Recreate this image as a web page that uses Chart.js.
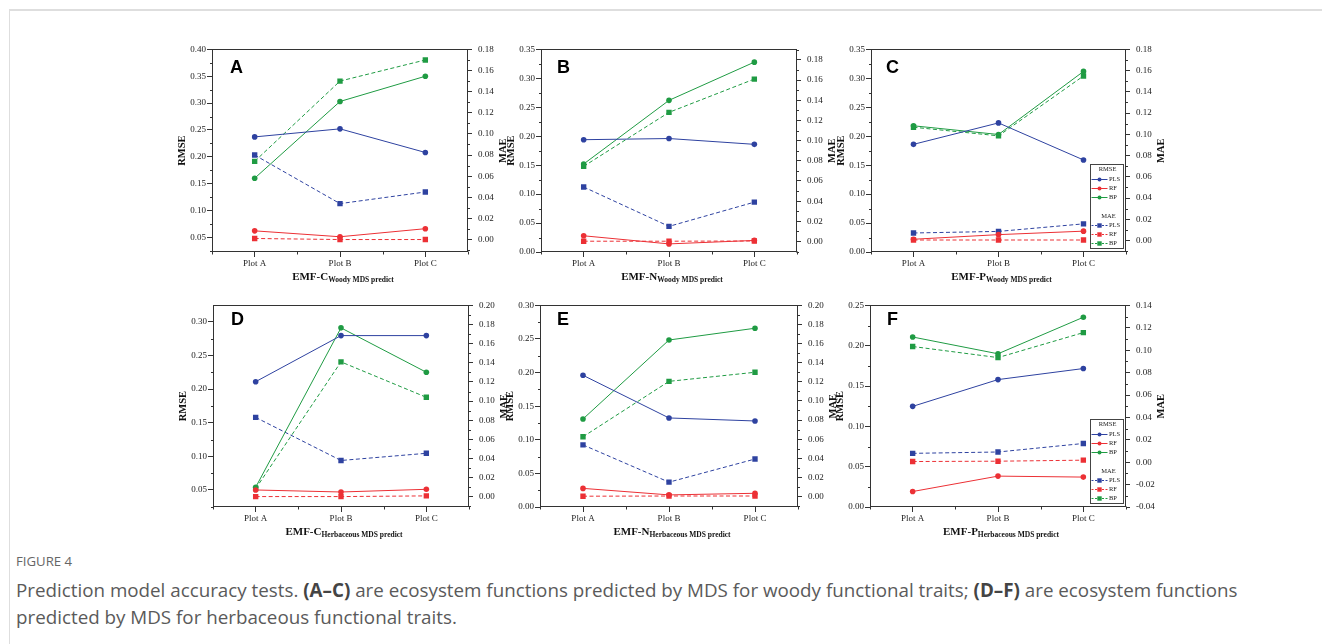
<!DOCTYPE html>
<html>
<head>
<meta charset="utf-8">
<script src="https://cdn.jsdelivr.net/npm/chart.js@4"></script>
<style>
  html, body { margin: 0; padding: 0; background: #fff; }
  #page { position: relative; width: 1322px; height: 644px; overflow: hidden; background: #fff; }
  #card { position: absolute; left: 9px; top: 9px; width: 1340px; height: 680px;
          border-top: 2px solid #dedede; border-left: 1px solid #dedede; }
  .panel { position: absolute; }
  .xtitle { position: absolute; font-family: "Liberation Serif", serif; font-weight: bold;
            font-size: 11px; color: #111; white-space: nowrap; transform: translate(-50%, -50%); }
  .xtitle sub { font-size: 7.5px; vertical-align: -2px; }
  #fig { position: absolute; left: 16px; top: 552px; font-family: "Open Sans", sans-serif;
         font-size: 13.2px; color: #666; }
  #cap { position: absolute; left: 16px; top: 577px; font-family: "Open Sans", sans-serif;
         font-size: 18.8px; line-height: 27px; color: #5a5a5a; white-space: nowrap; }
  #cap b { color: #444; }
</style>
</head>
<body>
<div id="page">
  <div id="card"></div>
  <div id="fig">FIGURE 4</div>
  <div id="cap">Prediction model accuracy tests. <b>(A–C)</b> are ecosystem functions predicted by MDS for woody functional traits; <b>(D–F)</b> are ecosystem functions<br>predicted by MDS for herbaceous functional traits.</div>
</div>
<script>
const plots = ['Plot A', 'Plot B', 'Plot C'];
const models = ['PLS', 'RF', 'BP'];
const modelColors = ['#2e42a0', '#ec3035', '#1f9b43'];

// panel A  (EMF-C, woody)
const rmseA_PLS = [0.237, 0.252, 0.208];
const rmseA_RF  = [0.062, 0.051, 0.066];
const rmseA_BP  = [0.160, 0.303, 0.350];
const maeA_PLS  = [0.080, 0.034, 0.045];
const maeA_RF   = [0.001, 0.000, 0.000];
const maeA_BP   = [0.074, 0.150, 0.170];
const leftTicksA  = [0.05, 0.10, 0.15, 0.20, 0.25, 0.30, 0.35, 0.40];
const rightTicksA = [0.00, 0.02, 0.04, 0.06, 0.08, 0.10, 0.12, 0.14, 0.16, 0.18];
const leftRangeA  = [0.0226, 0.40];
const rightRangeA = [-0.0118, 0.18];

// panel B  (EMF-N, woody)
const rmseB_PLS = [0.194, 0.196, 0.186];
const rmseB_RF  = [0.028, 0.014, 0.020];
const rmseB_BP  = [0.152, 0.262, 0.328];
const maeB_PLS  = [0.054, 0.015, 0.039];
const maeB_RF   = [0.0003, 0.0003, 0.0005];
const maeB_BP   = [0.0745, 0.128, 0.161];
const leftTicksB  = [0.00, 0.05, 0.10, 0.15, 0.20, 0.25, 0.30, 0.35];
const rightTicksB = [0.00, 0.02, 0.04, 0.06, 0.08, 0.10, 0.12, 0.14, 0.16, 0.18];
const leftRangeB  = [0, 0.35];
const rightRangeB = [-0.0104, 0.1904];

// panel C  (EMF-P, woody)
const rmseC_PLS = [0.186, 0.223, 0.159];
const rmseC_RF  = [0.022, 0.030, 0.036];
const rmseC_BP  = [0.218, 0.203, 0.312];
const maeC_PLS  = [0.0071, 0.0086, 0.0157];
const maeC_RF   = [0.0005, 0.0005, 0.0005];
const maeC_BP   = [0.1067, 0.0986, 0.155];
const leftTicksC  = [0.00, 0.05, 0.10, 0.15, 0.20, 0.25, 0.30, 0.35];
const rightTicksC = [0.00, 0.02, 0.04, 0.06, 0.08, 0.10, 0.12, 0.14, 0.16, 0.18];
const leftRangeC  = [0, 0.35];
const rightRangeC = [-0.0108, 0.18];

// panel D  (EMF-C, herbaceous)
const rmseD_PLS = [0.211, 0.2795, 0.2795];
const rmseD_RF  = [0.050, 0.047, 0.051];
const rmseD_BP  = [0.054, 0.291, 0.225];
const maeD_PLS  = [0.083, 0.038, 0.0455];
const maeD_RF   = [0.0003, 0.0003, 0.001];
const maeD_BP   = [0.0086, 0.141, 0.104];
const leftTicksD  = [0.05, 0.10, 0.15, 0.20, 0.25, 0.30];
const rightTicksD = [0.00, 0.02, 0.04, 0.06, 0.08, 0.10, 0.12, 0.14, 0.16, 0.18, 0.20];
const leftRangeD  = [0.0247, 0.3244];
const rightRangeD = [-0.0106, 0.20];

// panel E  (EMF-N, herbaceous)
const rmseE_PLS = [0.196, 0.1325, 0.128];
const rmseE_RF  = [0.0277, 0.018, 0.0204];
const rmseE_BP  = [0.131, 0.2485, 0.266];
const maeE_PLS  = [0.054, 0.015, 0.0392];
const maeE_RF   = [0.0003, 0.0005, 0.0005];
const maeE_BP   = [0.0625, 0.1205, 0.130];
const leftTicksE  = [0.00, 0.05, 0.10, 0.15, 0.20, 0.25, 0.30];
const rightTicksE = [0.00, 0.02, 0.04, 0.06, 0.08, 0.10, 0.12, 0.14, 0.16, 0.18, 0.20];
const leftRangeE  = [0, 0.30];
const rightRangeE = [-0.011, 0.20];

// panel F  (EMF-P, herbaceous)
const rmseF_PLS = [0.1248, 0.158, 0.1717];
const rmseF_RF  = [0.0192, 0.0383, 0.0371];
const rmseF_BP  = [0.2108, 0.190, 0.2353];
const maeF_PLS  = [0.0079, 0.0091, 0.0167];
const maeF_RF   = [0.0006, 0.0009, 0.0018];
const maeF_BP   = [0.1033, 0.0934, 0.1157];
const leftTicksF  = [0.00, 0.05, 0.10, 0.15, 0.20, 0.25];
const rightTicksF = [-0.04, -0.02, 0.00, 0.02, 0.04, 0.06, 0.08, 0.10, 0.12, 0.14];
const leftRangeF  = [0, 0.25];
const rightRangeF = [-0.04, 0.14];

const panels = [
  { letter: 'A', emf: 'EMF-C', sub: 'Woody MDS predict', rect: [212, 46, 468, 252], lx: 18, ly: 11, legend: false,
    rmse: [rmseA_PLS, rmseA_RF, rmseA_BP], mae: [maeA_PLS, maeA_RF, maeA_BP],
    lt: leftTicksA, rt: rightTicksA, lr: leftRangeA, rr: rightRangeA },
  { letter: 'B', emf: 'EMF-N', sub: 'Woody MDS predict', rect: [541, 46, 797, 252], lx: 16, ly: 11, legend: false,
    rmse: [rmseB_PLS, rmseB_RF, rmseB_BP], mae: [maeB_PLS, maeB_RF, maeB_BP],
    lt: leftTicksB, rt: rightTicksB, lr: leftRangeB, rr: rightRangeB },
  { letter: 'C', emf: 'EMF-P', sub: 'Woody MDS predict', rect: [871, 46, 1126, 252], lx: 15, ly: 11, legend: true,
    rmse: [rmseC_PLS, rmseC_RF, rmseC_BP], mae: [maeC_PLS, maeC_RF, maeC_BP],
    lt: leftTicksC, rt: rightTicksC, lr: leftRangeC, rr: rightRangeC },
  { letter: 'D', emf: 'EMF-C', sub: 'Herbaceous MDS predict', rect: [213, 302, 469, 507], lx: 18, ly: 7, legend: false,
    rmse: [rmseD_PLS, rmseD_RF, rmseD_BP], mae: [maeD_PLS, maeD_RF, maeD_BP],
    lt: leftTicksD, rt: rightTicksD, lr: leftRangeD, rr: rightRangeD },
  { letter: 'E', emf: 'EMF-N', sub: 'Herbaceous MDS predict', rect: [540, 302, 798, 507], lx: 17, ly: 7, legend: false,
    rmse: [rmseE_PLS, rmseE_RF, rmseE_BP], mae: [maeE_PLS, maeE_RF, maeE_BP],
    lt: leftTicksE, rt: rightTicksE, lr: leftRangeE, rr: rightRangeE },
  { letter: 'F', emf: 'EMF-P', sub: 'Herbaceous MDS predict', rect: [870, 302, 1126, 507], lx: 17, ly: 7, legend: true,
    rmse: [rmseF_PLS, rmseF_RF, rmseF_BP], mae: [maeF_PLS, maeF_RF, maeF_BP],
    lt: leftTicksF, rt: rightTicksF, lr: leftRangeF, rr: rightRangeF }
];

const LEFT_W = 40, RIGHT_W = 46, TOP_PAD = 8, X_H = 24;
const AXIS = '#333';
const serif = '"Liberation Serif", "Times New Roman", serif';

// frame, minor ticks, panel letter, right title and the inset legend
const deco = {
  id: 'deco',
  afterDatasetsDraw(chart, args, o) {
    const { ctx, chartArea: a, scales } = chart;
    ctx.save();
    ctx.strokeStyle = AXIS;
    ctx.lineWidth = 1;
    const L = Math.round(a.left) + 0.5, R = Math.round(a.right) - 0.5;
    const T = Math.round(a.top) + 0.5, B = Math.round(a.bottom) - 0.5;
    ctx.strokeRect(L, T, R - L, B - T);

    // minor ticks on y axes
    const minor = (scale, vals, side) => {
      const step = vals[1] - vals[0];
      for (let v = vals[0] - step / 2; v <= scale.max + 1e-9; v += step) {
        if (v < scale.min - 1e-9) continue;
        const y = Math.round(scale.getPixelForValue(v)) + 0.5;
        ctx.beginPath();
        if (side === 'left') { ctx.moveTo(L, y); ctx.lineTo(L - 2.5, y); }
        else { ctx.moveTo(R, y); ctx.lineTo(R + 2.5, y); }
        ctx.stroke();
      }
    };
    minor(scales.y, o.lt, 'left');
    minor(scales.y1, o.rt, 'right');

    // minor ticks on x axis: edges and between categories
    const xs = [a.left, a.right];
    for (let i = 0; i < plots.length - 1; i++) {
      xs.push((scales.x.getPixelForValue(i) + scales.x.getPixelForValue(i + 1)) / 2);
    }
    xs.forEach(x => {
      const px = Math.round(x) + 0.5;
      ctx.beginPath(); ctx.moveTo(px, B); ctx.lineTo(px, B + 3); ctx.stroke();
    });

    // panel letter
    ctx.fillStyle = '#000';
    ctx.font = 'bold 18px "Liberation Sans", Arial, sans-serif';
    ctx.textBaseline = 'alphabetic';
    ctx.textAlign = 'left';
    ctx.fillText(o.letter, a.left + o.lx, a.top + o.ly + 13);

    // right axis title (reads bottom to top)
    ctx.save();
    ctx.translate(a.right + 35, (a.top + a.bottom) / 2);
    ctx.rotate(-Math.PI / 2);
    ctx.font = 'bold 10.5px ' + serif;
    ctx.fillStyle = '#111';
    ctx.textAlign = 'center';
    ctx.textBaseline = 'middle';
    ctx.fillText('MAE', 0, 0);
    ctx.restore();

    if (o.legend) {
      const w = 33, h = 84;
      const bx = Math.round(a.right - 3 - w) + 0.5, by = Math.round(a.bottom - 4 - h) + 0.5;
      ctx.fillStyle = '#fff';
      ctx.fillRect(bx, by, w, h);
      ctx.strokeStyle = '#444';
      ctx.strokeRect(bx, by, w, h);
      ctx.font = '6.5px ' + serif;
      ctx.textBaseline = 'middle';
      const rowsY = [5, 15, 24, 33, 52, 61, 70, 79];
      ctx.fillStyle = '#222';
      ctx.textAlign = 'center';
      ctx.fillText('RMSE', bx + 17, by + rowsY[0]);
      ctx.fillText('MAE', bx + 18, by + rowsY[4]);
      const ds = chart.data.datasets;
      const rowIdx = [1, 2, 3, 5, 6, 7];
      ds.forEach((d, i) => {
        const y = by + rowsY[rowIdx[i]];
        ctx.strokeStyle = d.borderColor;
        ctx.fillStyle = d.borderColor;
        ctx.lineWidth = 1;
        ctx.setLineDash(i < 3 ? [] : [2, 1.5]);
        ctx.beginPath(); ctx.moveTo(bx + 1, y); ctx.lineTo(bx + 17, y); ctx.stroke();
        ctx.setLineDash([]);
        if (i < 3) { ctx.beginPath(); ctx.arc(bx + 9, y, 2, 0, Math.PI * 2); ctx.fill(); }
        else { ctx.fillRect(bx + 9 - 2.2, y - 2.2, 4.4, 4.4); }
        ctx.fillStyle = '#222';
        ctx.textAlign = 'left';
        ctx.fillText(d.label, bx + 18.5, y);
      });
    }
    ctx.restore();
  }
};

const page = document.getElementById('page');

panels.forEach(p => {
  const [l, t, r, b] = p.rect;
  const div = document.createElement('div');
  div.className = 'panel';
  const cw = (r - l) + LEFT_W + RIGHT_W;
  const ch = (b - t) + TOP_PAD + X_H;
  div.style.left = (l - LEFT_W) + 'px';
  div.style.top = (t - TOP_PAD) + 'px';
  const canvas = document.createElement('canvas');
  canvas.width = cw; canvas.height = ch;
  canvas.style.width = cw + 'px'; canvas.style.height = ch + 'px';
  div.appendChild(canvas);
  page.appendChild(div);

  const title = document.createElement('div');
  title.className = 'xtitle';
  title.style.left = ((l + r) / 2 + 3) + 'px';
  title.style.top = (b + 25) + 'px';
  title.innerHTML = p.emf + '<sub>' + p.sub + '</sub>';
  page.appendChild(title);

  const datasets = [];
  models.forEach((m, i) => datasets.push({
    label: m, data: p.rmse[i], yAxisID: 'y',
    borderColor: modelColors[i], backgroundColor: modelColors[i],
    borderWidth: 1, pointStyle: 'circle', pointRadius: 2.8, pointBorderWidth: 0, tension: 0
  }));
  models.forEach((m, i) => datasets.push({
    label: m, data: p.mae[i], yAxisID: 'y1',
    borderColor: modelColors[i], backgroundColor: modelColors[i],
    borderWidth: 1, borderDash: [4, 2.5], pointStyle: 'rect', pointRadius: 3.8, pointBorderWidth: 0, tension: 0
  }));

  const tickFont = { family: serif, size: 9 };

  new Chart(canvas, {
    type: 'line',
    data: { labels: plots, datasets },
    options: {
      responsive: false,
      animation: false,
      layout: { padding: { top: TOP_PAD, left: 0, right: 0, bottom: 0 } },
      plugins: {
        legend: { display: false },
        tooltip: { enabled: false },
        deco: { letter: p.letter, lx: p.lx, ly: p.ly, legend: p.legend, lt: p.lt, rt: p.rt }
      },
      scales: {
        x: {
          type: 'category', offset: true,
          grid: { display: true, drawOnChartArea: false, tickLength: 5, color: AXIS, offset: false },
          border: { display: false },
          ticks: { padding: 1, color: '#222', font: tickFont, maxRotation: 0 },
          afterFit: s => { s.height = X_H; }
        },
        y: {
          position: 'left', min: p.lr[0], max: p.lr[1],
          afterBuildTicks: s => { s.ticks = p.lt.map(v => ({ value: v })); },
          ticks: { callback: v => v.toFixed(2), padding: 1, color: '#222', font: tickFont },
          grid: { drawOnChartArea: false, tickLength: 5, color: AXIS },
          border: { display: false },
          title: { display: true, text: 'RMSE', color: '#111',
                   font: { family: serif, size: 10.5, weight: 'bold' }, padding: { top: 4, bottom: 0 } },
          afterFit: s => { s.width = LEFT_W; }
        },
        y1: {
          position: 'right', min: p.rr[0], max: p.rr[1],
          afterBuildTicks: s => { s.ticks = p.rt.map(v => ({ value: v })); },
          ticks: { callback: v => v.toFixed(2), padding: 6, color: '#222', font: tickFont },
          grid: { drawOnChartArea: false, tickLength: 4, color: AXIS },
          border: { display: false },
          afterFit: s => { s.width = RIGHT_W; }
        }
      }
    },
    plugins: [deco]
  });
});
</script>
</body>
</html>
